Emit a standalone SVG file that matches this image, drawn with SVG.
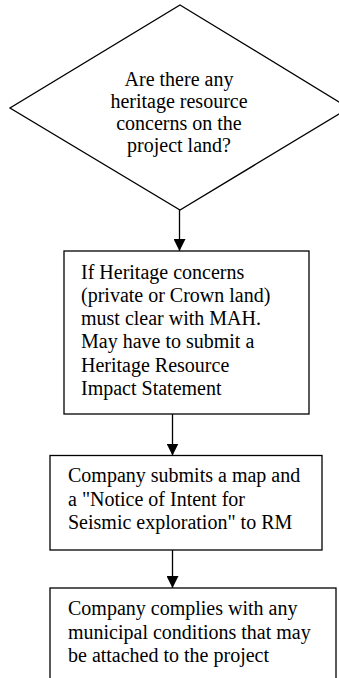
<svg xmlns="http://www.w3.org/2000/svg" width="339" height="678" viewBox="0 0 339 678">
<defs>
<marker id="ah" markerWidth="12" markerHeight="12" viewBox="0 0 12 12" refX="12" refY="6" orient="auto" markerUnits="userSpaceOnUse">
<path d="M0,0 L12,6 L0,12 Z" fill="#000"/>
</marker>
<style>
.shape{fill:#fff;stroke:#000;stroke-width:1.3}
.conn{stroke:#000;stroke-width:1.3;fill:none}
</style>
</defs>
<rect width="339" height="678" fill="#fff"/>
<g id="connectors">
<line class="conn" x1="179.5" y1="210" x2="179.5" y2="251" marker-end="url(#ah)"/>
<line class="conn" x1="172.5" y1="414" x2="172.5" y2="455.5" marker-end="url(#ah)"/>
<line class="conn" x1="172.5" y1="550" x2="172.5" y2="588" marker-end="url(#ah)"/>
</g>
<g font-family="Liberation Serif, DejaVu Serif, serif" font-size="20" fill="#000">
<g id="decision">
<polygon class="shape" points="180,5 349,108 180,210 10,108"/>
<g text-anchor="middle">
<text x="179" y="86">Are there any</text>
<text x="179" y="108">heritage resource</text>
<text x="179" y="130">concerns on the</text>
<text x="179" y="152">project land?</text>
</g>
</g>
<g id="heritage">
<rect class="shape" x="64" y="251" width="245" height="163"/>
<text x="81" y="278.5">If Heritage concerns</text>
<text x="81" y="301.8">(private or Crown land)</text>
<text x="81" y="325.1">must clear with MAH.</text>
<text x="81" y="348.4">May have to submit a</text>
<text x="81" y="371.7">Heritage Resource</text>
<text x="81" y="395">Impact Statement</text>
</g>
<g id="notice">
<rect class="shape" x="50" y="455.5" width="272" height="94.5"/>
<text x="68" y="482">Company submits a map and</text>
<text x="68" y="505.5">a "Notice of Intent for</text>
<text x="68" y="529">Seismic exploration" to RM</text>
</g>
<g id="comply">
<rect class="shape" x="50" y="588" width="286" height="110"/>
<text x="68" y="615">Company complies with any</text>
<text x="68" y="638.5">municipal conditions that may</text>
<text x="68" y="662">be attached to the project</text>
</g>
</g>
</svg>
